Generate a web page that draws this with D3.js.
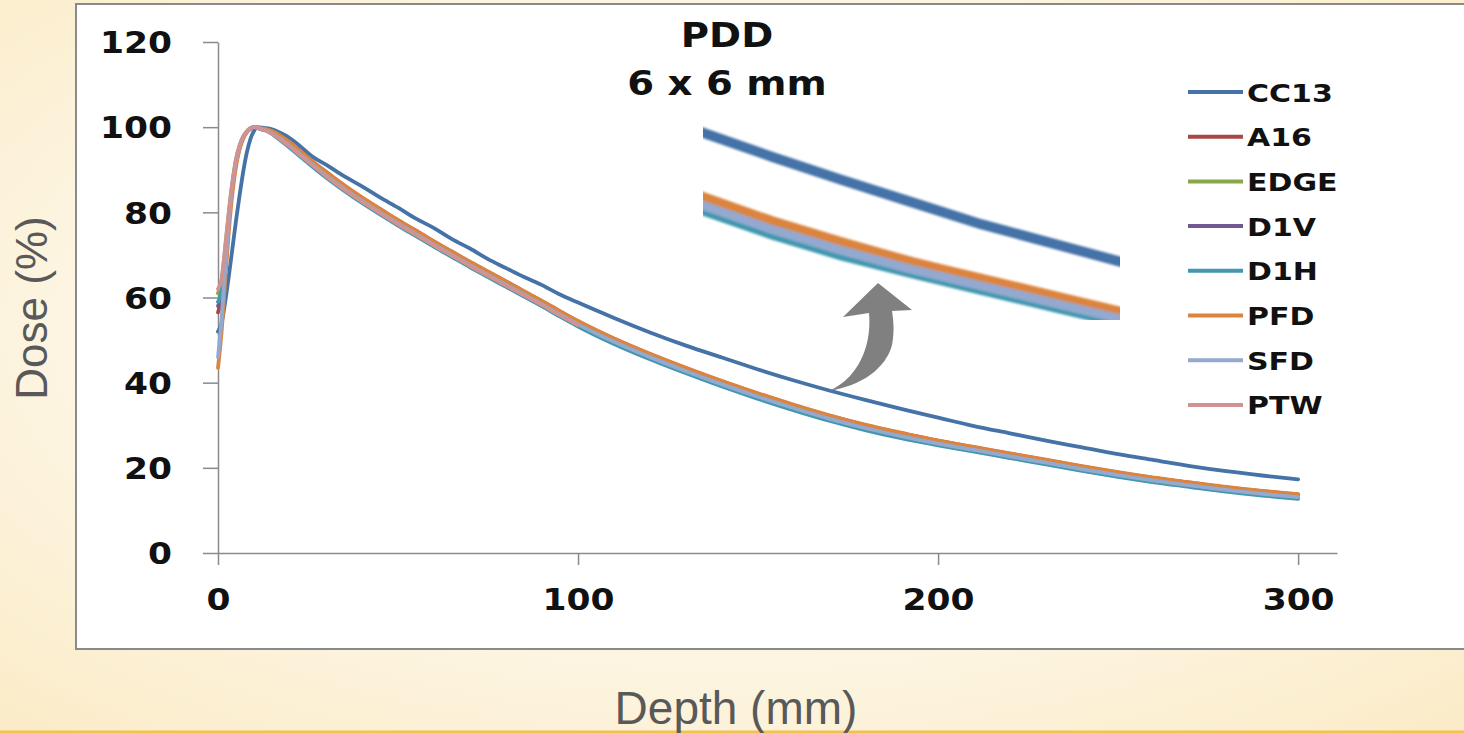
<!DOCTYPE html>
<html>
<head>
<meta charset="utf-8">
<script src="https://cdn.jsdelivr.net/npm/d3@7"></script>
<style>
  html, body { margin: 0; padding: 0; }
  body { width: 1464px; height: 733px; overflow: hidden; }
  svg { display: block; }
</style>
</head>
<body>
<svg id="chart" width="1464" height="733"></svg>
<script>
// ---------------- DATA ----------------
const depth = [0,1,2,3,4,5,6,7,8,9,10,11,12,13,15,17,20,23,26,30,35,40,45,50,55,60,65,70,75,80,85,90,95,100,110,120,130,140,150,160,170,180,190,200,210,220,230,240,250,260,270,280,290,300];

const cc13 = [52,54,59,65,71.5,78,84,89.5,94,97.2,99.1,100,99.9,99.8,99.5,98.8,97.4,95.4,93.2,91.2,88.5,86.1,83.5,81.1,78.5,76.3,73.7,71.5,69.0,66.9,64.8,62.9,60.7,58.8,55.2,51.8,48.7,45.9,43.1,40.5,38.1,35.9,33.8,31.8,29.8,28.1,26.4,24.8,23.2,21.8,20.4,19.2,18.2,17.3];
const a16  = [56.5,60,69,78,85.8,91.5,95.2,97.5,98.9,99.6,100,99.9,99.6,99.6,99.0,98.1,96.3,94.3,92.0,89.5,86.3,83.4,80.8,78.0,75.7,73.1,70.7,68.3,66.0,63.8,61.4,59.1,56.7,54.4,50.3,46.7,43.4,40.3,37.4,34.7,32.2,30.0,28.1,26.4,24.8,23.3,21.8,20.3,18.9,17.6,16.5,15.4,14.5,13.7];
const edge = [61,64,71.5,80,87,92.3,95.6,97.8,99.0,99.7,100,99.9,99.6,99.5,98.9,98.0,96.1,94.0,91.9,89.2,86.1,83.2,80.5,77.9,75.4,72.9,70.5,68.1,65.8,63.5,61.2,58.9,56.5,54.2,50.1,46.5,43.2,40.1,37.2,34.5,32.0,29.8,27.9,26.2,24.7,23.2,21.7,20.2,18.8,17.5,16.4,15.3,14.4,13.6];
const d1v  = [58,61,69,78,86,91.7,95.3,97.6,98.9,99.7,100,99.8,99.5,99.4,98.6,97.4,95.5,93.4,91.3,88.6,85.5,82.6,79.9,77.3,74.8,72.3,69.9,67.5,65.2,62.9,60.6,58.3,55.9,53.6,49.5,45.9,42.6,39.5,36.6,33.9,31.4,29.2,27.3,25.6,24.1,22.6,21.1,19.6,18.2,16.9,15.8,14.7,13.8,13.0];
const d1h  = [59,61.5,69.5,78.5,86,91.8,95.3,97.6,98.9,99.7,100,99.8,99.5,99.3,98.4,97.1,95.1,93.0,90.9,88.2,85.1,82.2,79.5,76.9,74.4,71.9,69.5,67.1,64.8,62.5,60.2,57.9,55.5,53.2,49.1,45.5,42.2,39.1,36.2,33.5,31.0,28.8,26.9,25.3,23.8,22.3,20.8,19.3,17.9,16.6,15.5,14.4,13.5,12.7];
const pfd  = [43.5,52,64,75.5,84.5,90.8,94.8,97.3,98.8,99.6,100,99.9,99.7,99.6,99.1,98.2,96.4,94.3,92.2,89.5,86.4,83.5,80.8,78.2,75.7,73.2,70.8,68.4,66.1,63.8,61.5,59.2,56.8,54.5,50.4,46.8,43.5,40.4,37.5,34.8,32.3,30.1,28.2,26.4,24.9,23.4,21.9,20.4,19.0,17.7,16.6,15.5,14.6,13.8];
const sfd  = [46,55,67,78,86.5,92,95.5,97.7,99,99.7,100,99.9,99.6,99.4,98.6,97.5,95.6,93.5,91.4,88.7,85.6,82.7,80.0,77.4,74.9,72.4,70.0,67.6,65.3,63.0,60.7,58.4,56.0,53.7,49.6,46.0,42.7,39.6,36.7,34.0,31.5,29.3,27.4,25.7,24.2,22.7,21.2,19.7,18.3,17.0,15.9,14.8,13.9,13.1];
const ptw  = [62,64.5,72,80,87,92.5,95.8,97.8,99.0,99.7,100,99.9,99.6,99.3,98.5,97.3,95.4,93.3,91.2,88.5,85.4,82.5,79.8,77.2,74.7,72.2,69.8,67.4,65.1,62.8,60.5,58.2,55.8,53.5];

const seriesNames  = ["CC13","A16","EDGE","D1V","D1H","PFD","SFD","PTW"];
const seriesValues = [cc13, a16, edge, d1v, d1h, pfd, sfd, ptw];
const seriesColors = ["#4572A7","#AA4643","#89A54E","#71588F","#4198AF","#DB843D","#93A9CF","#D19392"];

const yTicks = [0,20,40,60,80,100,120];
const xTicks = [0,100,200,300];
const titleLines = ["PDD","6 x 6 mm"];
const xTitle = "Depth (mm)";
const yTitle = "Dose (%)";
const insetDepthRange = [170, 230];
const insetDoseRange = [21.1, 38.8];

// ---------------- DRAW ----------------
const svg = d3.select("#chart");
const defs = svg.append("defs");

const bg = defs.append("radialGradient").attr("id","bg")
  .attr("cx","50%").attr("cy","45%").attr("r","75%");
bg.append("stop").attr("offset","0%").attr("stop-color","#fffdf7");
bg.append("stop").attr("offset","60%").attr("stop-color","#fdf5e2");
bg.append("stop").attr("offset","100%").attr("stop-color","#fbebc6");

svg.append("rect").attr("width",1464).attr("height",733).attr("fill","url(#bg)");
svg.append("rect").attr("x",0).attr("y",730.5).attr("width",1464).attr("height",3).attr("fill","#f3c24c");

// white chart area box
svg.append("rect").attr("x",76).attr("y",4).attr("width",1400).attr("height",645)
  .attr("fill","#ffffff").attr("stroke","#8a8a8a").attr("stroke-width",2);

const x = d3.scaleLinear().domain([0, 310.8]).range([218, 1337]);
const y = d3.scaleLinear().domain([0, 120]).range([553, 42]);

const tickFont = "'DejaVu Sans', Verdana, sans-serif";

// y axis
const gy = svg.append("g").attr("transform","translate(218,0)")
  .call(d3.axisLeft(y).tickValues(yTicks).tickSize(15).tickSizeOuter(0));
gy.select(".domain").attr("stroke","#8a8a8a").attr("stroke-width",1.5);
gy.selectAll(".tick line").attr("stroke","#8a8a8a").attr("stroke-width",1.5);
gy.selectAll(".tick text").attr("x",-40).attr("dy","0.36em")
  .attr("transform","scale(1.15,1)")
  .style("font-family",tickFont).style("font-weight","bold").style("font-size","30px").attr("fill","#111");

// x axis
const gx = svg.append("g").attr("transform","translate(0,553)")
  .call(d3.axisBottom(x).tickValues(xTicks).tickSize(12).tickSizeOuter(0));
gx.select(".domain").attr("stroke","#8a8a8a").attr("stroke-width",1.5);
gx.selectAll(".tick line").attr("stroke","#8a8a8a").attr("stroke-width",1.5);
gx.selectAll(".tick text").attr("y",36).attr("dy","0.71em")
  .attr("transform","scale(1.15,1)")
  .style("font-family",tickFont).style("font-weight","bold").style("font-size","30px").attr("fill","#111");

// main lines
const line = d3.line()
  .x((d,i) => x(depth[i]))
  .y(d => y(d))
  .curve(d3.curveMonotoneX);

const gLines = svg.append("g");
seriesValues.forEach((vals, k) => {
  gLines.append("path")
    .attr("d", line(vals))
    .attr("fill","none")
    .attr("stroke", seriesColors[k])
    .attr("stroke-width", 3.8)
    .attr("stroke-linejoin","round")
    .attr("stroke-linecap","round");
});

// inset (zoomed view of the same curves)
const ix = d3.scaleLinear().domain(insetDepthRange).range([703, 1120]);
const iy = d3.scaleLinear().domain(insetDoseRange).range([320, 125]);
defs.append("clipPath").attr("id","insetClip")
  .append("rect").attr("x",703).attr("y",125).attr("width",417).attr("height",195);
defs.append("filter").attr("id","soft").append("feGaussianBlur").attr("stdDeviation",0.9);

const gInset = svg.append("g").attr("clip-path","url(#insetClip)");
gInset.append("rect").attr("x",703).attr("y",125).attr("width",417).attr("height",195).attr("fill","#fff");
const iline = d3.line().x((d,i) => ix(depth[i])).y(d => iy(d));
const gIL = gInset.append("g").attr("filter","url(#soft)");
seriesValues.forEach((vals, k) => {
  gIL.append("path")
    .attr("d", iline(vals))
    .attr("fill","none")
    .attr("stroke", seriesColors[k])
    .attr("stroke-width", k === 0 ? 10 : 9)
    .attr("stroke-linejoin","round");
});

// arrow
svg.append("path")
  .attr("d","M828,391 C862,386 886,368 892,345 C895,330 893,318 892,311 L912,310 L878,283 L843,317 L869,313 C871,335 866,358 850,376 C843,383 836,388 828,391 Z")
  .attr("fill","#808080");

// title
svg.append("g").selectAll("text").data(titleLines).join("text")
  .attr("transform",(d,i) => `translate(727,${47 + i*48}) scale(1.17,1)`)
  .attr("text-anchor","middle")
  .style("font-family",tickFont).style("font-weight","bold").style("font-size","33px")
  .attr("fill","#111")
  .text(d => d);

// legend
const leg = svg.append("g");
seriesNames.forEach((name, k) => {
  const cy = 92 + k*44.7;
  leg.append("line").attr("x1",1188).attr("x2",1243).attr("y1",cy).attr("y2",cy)
    .attr("stroke",seriesColors[k]).attr("stroke-width",4);
  leg.append("text")
    .attr("transform",`translate(1247,${cy + 9.5}) scale(1.2,1)`)
    .style("font-family",tickFont).style("font-weight","bold").style("font-size","25px")
    .attr("fill","#111")
    .text(name);
});

// axis titles
svg.append("text")
  .attr("transform","translate(736,724)")
  .attr("text-anchor","middle")
  .style("font-family","'Liberation Sans', Arial, sans-serif").style("font-size","46px")
  .attr("fill","#595959")
  .text(xTitle);

svg.append("text")
  .attr("transform","translate(47,308) rotate(-90)")
  .attr("text-anchor","middle")
  .style("font-family","'Liberation Sans', Arial, sans-serif").style("font-size","44px")
  .attr("fill","#595959")
  .text(yTitle);
</script>
</body>
</html>
